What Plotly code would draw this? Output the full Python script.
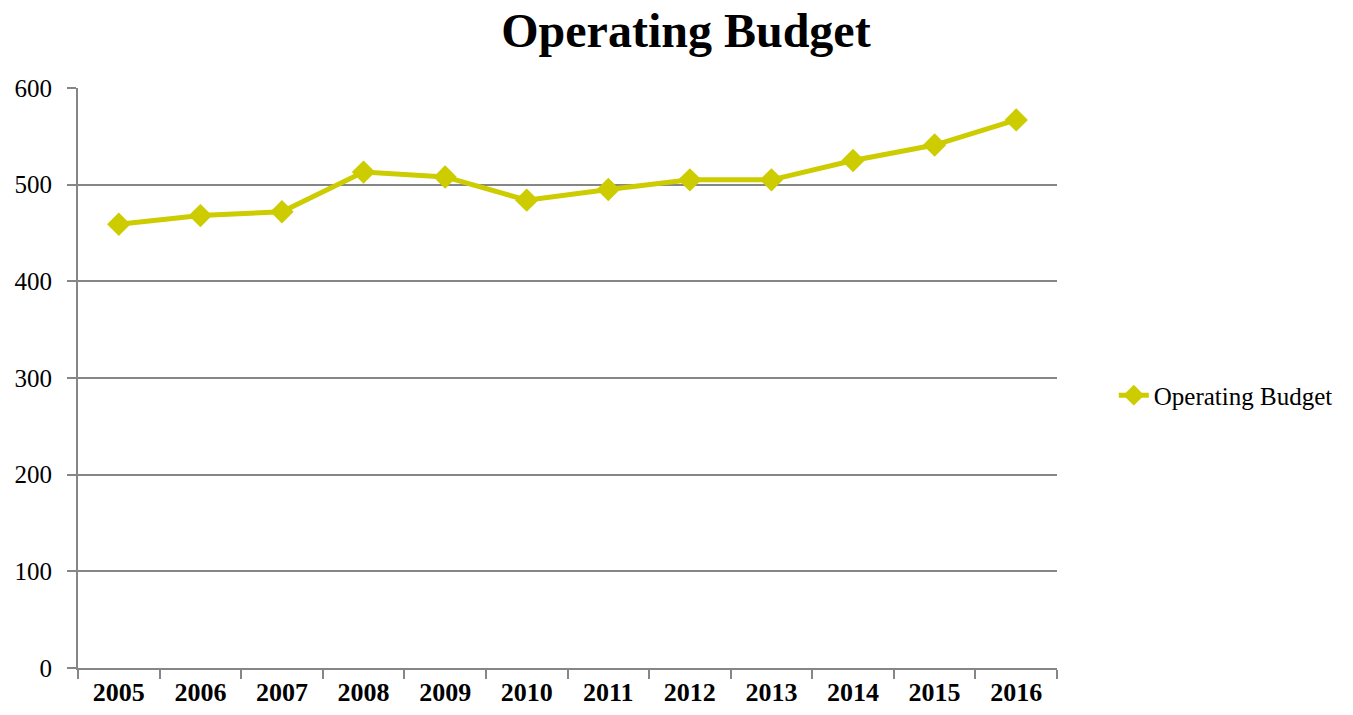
import plotly.graph_objects as go

years = ["2005", "2006", "2007", "2008", "2009", "2010", "2011", "2012", "2013", "2014", "2015", "2016"]
budget = [459, 468, 472, 513, 508, 484, 495, 505, 505, 525, 541, 567]
y_ticks = [0, 100, 200, 300, 400, 500, 600]

fig = go.Figure()
fig.add_trace(go.Scatter(
    x=years, y=budget, mode="lines+markers", name="Operating Budget",
    line=dict(color="#CCCC00", width=5),
    marker=dict(symbol="diamond", size=18, color="#CCCC00"),
))

fig.update_layout(
    width=1353, height=715,
    margin=dict(l=78, r=296, t=88, b=47),
    paper_bgcolor="white", plot_bgcolor="white",
    title=dict(text="<b>Operating Budget</b>", x=0.507, xanchor="center", xref="container",
               y=0.958, yanchor="middle",
               font=dict(family="Liberation Serif", size=48, color="black")),
    showlegend=True,
    legend=dict(x=1.058, y=0.47, xanchor="left", yanchor="middle",
                font=dict(family="Liberation Serif", size=25, color="black"),
                bgcolor="rgba(0,0,0,0)"),
    font=dict(family="Liberation Serif", color="black"),
)

fig.update_xaxes(
    type="category", range=[-0.5, 11.5], showline=True, linecolor="#868686", linewidth=2,
    ticks="outside", ticklen=9, tickwidth=2, tickcolor="#868686",
    tickson="boundaries", showgrid=False, automargin=False,
    tickfont=dict(family="Liberation Serif", size=26, color="black", weight="bold"),
)
fig.update_yaxes(
    range=[0, 600], tickvals=y_ticks, showline=True, linecolor="#868686", linewidth=2,
    ticks="outside", ticklen=9, tickwidth=2, tickcolor="#868686",
    showgrid=True, gridcolor="#868686", gridwidth=2, zeroline=False,
    ticklabelstandoff=10, automargin=False,
    tickfont=dict(family="Liberation Serif", size=25, color="black"),
)

fig.write_html("out.html")
